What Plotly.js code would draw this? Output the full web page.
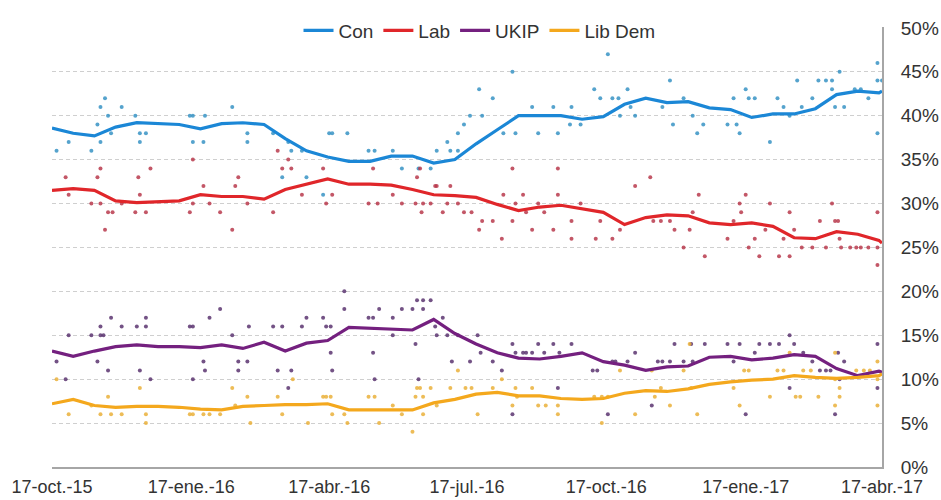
<!DOCTYPE html>
<html>
<head>
<meta charset="utf-8">
<script src="https://cdn.plot.ly/plotly-3.0.1.min.js"></script>
<style>html,body{margin:0;padding:0;background:#fff;}#chart{width:941px;height:500px;}</style>
</head>
<body>
<div id="chart"></div>
<script>
// Smoothed trend lines (shared dates)
const trendDates = ["2015-10-17","2015-10-31","2015-11-14","2015-11-28","2015-12-12","2015-12-26","2016-01-09","2016-01-23","2016-02-06","2016-02-20","2016-03-05","2016-03-19","2016-04-02","2016-04-16","2016-04-30","2016-05-14","2016-05-28","2016-06-11","2016-06-25","2016-07-09","2016-07-23","2016-08-06","2016-08-20","2016-09-03","2016-09-17","2016-10-01","2016-10-15","2016-10-29","2016-11-12","2016-11-26","2016-12-10","2016-12-24","2017-01-07","2017-01-21","2017-02-04","2017-02-18","2017-03-04","2017-03-18","2017-04-01","2017-04-15","2017-04-17"];
const conTrend = [38.6,38.0,37.7,38.7,39.2,39.1,39.0,38.5,39.1,39.2,39.0,37.4,36.0,35.3,34.8,34.8,35.4,35.4,34.6,35.0,36.8,38.4,40.0,40.0,40.0,39.6,39.9,41.3,42.0,41.5,41.6,40.9,40.7,39.8,40.2,40.2,40.8,42.4,42.8,42.6,42.8];
const labTrend = [31.5,31.7,31.5,30.3,30.1,30.2,30.3,31.0,30.8,30.8,30.5,31.6,32.2,32.8,32.2,32.2,32.1,31.6,31.0,30.9,30.7,29.9,29.2,29.6,29.8,29.4,29.0,27.6,28.4,28.7,28.6,27.8,27.6,27.8,27.4,26.1,26.0,26.8,26.5,25.8,25.5];
const ukipTrend = [13.2,12.6,13.2,13.7,13.9,13.7,13.7,13.6,13.9,13.5,14.2,13.2,14.1,14.4,15.9,15.8,15.7,15.6,16.8,15.2,14.0,13.0,12.4,12.3,12.6,13.0,12.0,11.6,11.0,11.4,11.5,12.5,12.6,12.2,12.4,12.8,12.6,11.2,10.4,10.9,10.8];
const ldTrend = [7.2,7.7,7.0,6.8,6.9,6.9,6.8,6.6,6.5,6.9,7.0,7.1,7.1,7.2,6.5,6.5,6.5,6.5,7.3,7.7,8.3,8.5,8.1,8.1,7.8,7.7,7.8,8.4,8.7,8.6,8.9,9.4,9.7,9.9,10.0,10.4,10.2,10.1,10.2,10.4,10.6];

// Individual polls
const conPollDates = ["2015-10-20","2015-10-28","2015-11-12","2015-11-16","2015-11-18","2015-11-18","2015-11-21","2015-11-23","2015-11-25","2015-12-02","2015-12-11","2015-12-14","2015-12-14","2015-12-18","2016-01-16","2016-01-18","2016-01-18","2016-01-25","2016-01-26","2016-02-13","2016-02-23","2016-02-23","2016-03-11","2016-03-17","2016-03-21","2016-03-23","2016-03-30","2016-04-02","2016-04-13","2016-04-17","2016-04-19","2016-04-29","2016-05-13","2016-05-17","2016-05-29","2016-06-04","2016-06-15","2016-06-23","2016-06-27","2016-07-04","2016-07-06","2016-07-11","2016-07-11","2016-07-15","2016-07-19","2016-07-25","2016-07-27","2016-08-03","2016-08-10","2016-08-16","2016-08-18","2016-08-29","2016-09-02","2016-09-12","2016-09-15","2016-09-23","2016-09-24","2016-09-30","2016-10-09","2016-10-13","2016-10-18","2016-10-21","2016-10-25","2016-10-26","2016-10-31","2016-11-02","2016-11-05","2016-11-23","2016-11-28","2016-11-30","2016-12-07","2016-12-13","2016-12-16","2016-12-20","2017-01-05","2017-01-09","2017-01-11","2017-01-13","2017-01-17","2017-01-19","2017-01-23","2017-02-02","2017-02-07","2017-02-11","2017-02-15","2017-02-20","2017-02-23","2017-03-02","2017-03-06","2017-03-11","2017-03-15","2017-03-15","2017-03-17","2017-03-20","2017-03-23","2017-03-30","2017-04-03","2017-04-08","2017-04-14","2017-04-14","2017-04-14","2017-04-17"];
const conPolls = [36,37,36,39,41,37,42,40,38,41,40,38,37,38,40,40,37,37,40,41,38,37,38,33,37,36,36,33,31,38,38,38,36,36,36,34,34,34,36,37,36,38,36,39,40,43,40,42,38,45,38,41,38,41,38,39,41,39,43,42,47,42,42,40,43,41,40,41,44,39,42,40,38,39,39,42,39,38,43,42,42,37,42,41,40,44,41,42,44,44,44,43,41,45,41,43,43,42,46,44,38,44];

const labPollDates = ["2015-10-26","2015-10-28","2015-11-12","2015-11-16","2015-11-18","2015-11-18","2015-11-21","2015-11-23","2015-11-26","2015-12-02","2015-12-11","2015-12-13","2015-12-14","2015-12-18","2015-12-21","2016-01-16","2016-01-18","2016-01-18","2016-01-25","2016-01-29","2016-02-05","2016-02-13","2016-02-15","2016-02-17","2016-02-23","2016-03-11","2016-03-14","2016-03-17","2016-03-21","2016-03-23","2016-03-30","2016-04-13","2016-04-15","2016-04-19","2016-05-13","2016-05-16","2016-05-19","2016-05-29","2016-06-04","2016-06-13","2016-06-14","2016-06-16","2016-06-17","2016-06-18","2016-06-23","2016-06-26","2016-06-27","2016-07-01","2016-07-04","2016-07-06","2016-07-11","2016-07-15","2016-07-20","2016-07-25","2016-07-27","2016-08-03","2016-08-09","2016-08-10","2016-08-16","2016-08-16","2016-08-18","2016-08-23","2016-08-25","2016-08-29","2016-09-02","2016-09-06","2016-09-12","2016-09-15","2016-09-15","2016-09-24","2016-09-24","2016-09-30","2016-10-10","2016-10-13","2016-10-21","2016-10-26","2016-11-05","2016-11-15","2016-11-17","2016-11-22","2016-11-28","2016-12-01","2016-12-07","2016-12-11","2016-12-13","2016-12-17","2016-12-21","2017-01-05","2017-01-09","2017-01-13","2017-01-14","2017-01-17","2017-01-19","2017-01-23","2017-01-26","2017-01-30","2017-02-02","2017-02-08","2017-02-11","2017-02-15","2017-02-15","2017-02-18","2017-02-23","2017-03-02","2017-03-07","2017-03-11","2017-03-15","2017-03-17","2017-03-19","2017-03-20","2017-03-21","2017-03-27","2017-03-31","2017-04-03","2017-04-08","2017-04-14","2017-04-14","2017-04-14"];
const labPolls = [33,31,30,33,34,30,27,29,29,30,29,33,31,29,34,29,35,30,32,30,29,27,32,33,30,29,36,34,35,34,31,34,30,31,30,34,30,31,30,30,33,34,29,30,30,32,32,29,30,32,30,29,29,27,28,28,26,31,34,28,30,31,29,27,30,29,27,34,31,28,26,30,26,28,26,27,32,33,28,28,28,27,25,27,29,31,24,26,28,30,29,31,25,26,24,27,30,24,26,24,29,27,25,25,28,25,30,28,28,26,25,25,25,25,25,29,25,23];

const ukipPollDates = ["2015-10-20","2015-10-26","2015-10-28","2015-11-12","2015-11-16","2015-11-18","2015-11-18","2015-11-20","2015-11-23","2015-11-25","2015-12-02","2015-12-12","2015-12-14","2015-12-18","2015-12-18","2015-12-21","2016-01-16","2016-01-18","2016-01-18","2016-01-25","2016-01-26","2016-01-29","2016-02-05","2016-02-13","2016-02-17","2016-02-17","2016-02-23","2016-02-24","2016-03-11","2016-03-14","2016-03-17","2016-03-21","2016-03-23","2016-03-30","2016-04-02","2016-04-13","2016-04-15","2016-04-18","2016-04-18","2016-04-19","2016-04-27","2016-04-27","2016-05-13","2016-05-16","2016-05-16","2016-05-17","2016-05-20","2016-05-29","2016-05-29","2016-06-04","2016-06-11","2016-06-13","2016-06-14","2016-06-15","2016-06-18","2016-06-18","2016-06-23","2016-06-26","2016-06-27","2016-07-01","2016-07-04","2016-07-07","2016-07-11","2016-07-19","2016-07-24","2016-07-26","2016-08-03","2016-08-09","2016-08-16","2016-08-16","2016-08-18","2016-08-23","2016-08-25","2016-08-29","2016-09-02","2016-09-06","2016-09-12","2016-09-15","2016-09-16","2016-09-24","2016-10-08","2016-10-11","2016-10-18","2016-10-21","2016-10-23","2016-10-31","2016-11-05","2016-11-16","2016-11-20","2016-11-23","2016-11-28","2016-12-01","2016-12-07","2016-12-12","2016-12-13","2016-12-21","2017-01-05","2017-01-09","2017-01-13","2017-01-17","2017-01-23","2017-01-26","2017-02-02","2017-02-08","2017-02-15","2017-02-15","2017-02-18","2017-02-24","2017-03-02","2017-03-07","2017-03-11","2017-03-14","2017-03-17","2017-03-19","2017-03-20","2017-03-23","2017-04-14","2017-04-14"];
const ukipPolls = [12,10,15,15,12,15,16,15,11,17,16,16,11,17,16,10,16,16,10,12,11,17,18,15,12,11,12,16,16,11,16,9,11,16,17,17,16,16,13,11,20,18,17,17,13,10,18,17,15,18,18,14,19,10,19,18,19,16,15,17,15,12,15,12,15,13,12,11,14,6,13,13,13,13,14,13,14,9,13,14,11,11,6,12,12,12,13,7,12,12,12,14,12,14,12,14,14,12,14,6,13,14,14,14,15,9,14,13,12,11,11,11,6,13,10,12,14,9];

const ldPollDates = ["2015-10-20","2015-10-28","2015-11-12","2015-11-18","2015-11-23","2015-11-25","2015-12-02","2015-12-14","2015-12-18","2015-12-18","2016-01-16","2016-01-18","2016-01-25","2016-01-29","2016-02-05","2016-02-13","2016-02-15","2016-02-23","2016-02-25","2016-03-14","2016-03-17","2016-03-24","2016-04-03","2016-04-13","2016-04-15","2016-04-18","2016-04-19","2016-04-27","2016-04-29","2016-05-13","2016-05-17","2016-05-20","2016-05-29","2016-06-04","2016-06-11","2016-06-13","2016-06-14","2016-06-16","2016-06-18","2016-06-18","2016-06-23","2016-06-27","2016-07-06","2016-07-11","2016-07-16","2016-07-20","2016-07-24","2016-08-03","2016-08-09","2016-08-16","2016-08-18","2016-08-19","2016-08-29","2016-09-02","2016-09-07","2016-09-15","2016-09-15","2016-10-09","2016-10-14","2016-10-14","2016-10-18","2016-10-26","2016-11-05","2016-11-16","2016-11-18","2016-11-22","2016-11-28","2016-12-07","2016-12-11","2016-12-12","2016-12-16","2017-01-09","2017-01-13","2017-01-16","2017-01-19","2017-02-02","2017-02-07","2017-02-11","2017-02-15","2017-02-19","2017-02-22","2017-02-24","2017-03-01","2017-03-06","2017-03-17","2017-03-17","2017-03-17","2017-03-20","2017-03-20","2017-03-31","2017-04-05","2017-04-09","2017-04-14","2017-04-14","2017-04-14"];
const ldPolls = [10,6,7,6,8,6,6,9,6,5,6,6,6,6,6,9,7,8,5,8,6,10,5,8,8,8,6,6,5,8,8,5,7,6,4,8,9,9,8,6,9,7,9,11,9,9,6,9,10,7,9,8,9,7,7,7,6,8,8,5,8,11,6,11,8,9,7,11,14,9,6,9,7,11,11,8,11,11,13,8,8,11,11,8,13,10,7,9,8,11,11,11,12,7,10];

const seriesNames = ["Con","Lab","UKIP","Lib Dem"];
const lineColors = ["#1b87d6","#e0262a","#74207f","#f4a81d"];
const dotColors = ["#3793c4","#b8394c","#5b3470","#eab03a"];

const tickDates = ["2015-10-17","2016-01-17","2016-04-17","2016-07-17","2016-10-17","2017-01-17","2017-04-17"];
const tickLabels = ["17-oct.-15","17-ene.-16","17-abr.-16","17-jul.-16","17-oct.-16","17-ene.-17","17-abr.-17"];
const yTicks = [0,5,10,15,20,25,30,35,40,45,50];
const yTickLabels = ["0%","5%","10%","15%","20%","25%","30%","35%","40%","45%","50%"];

const trends = [conTrend, labTrend, ukipTrend, ldTrend];
const pollDates = [conPollDates, labPollDates, ukipPollDates, ldPollDates];
const polls = [conPolls, labPolls, ukipPolls, ldPolls];

const traces = [];
for (let i = 0; i < 4; i++) {
  traces.push({
    x: pollDates[i], y: polls[i], type: "scatter", mode: "markers",
    marker: {color: dotColors[i], size: 4, opacity: 0.85},
    showlegend: false, hoverinfo: "skip"
  });
}
for (let i = 0; i < 4; i++) {
  traces.push({
    x: trendDates, y: trends[i], type: "scatter", mode: "lines",
    name: seriesNames[i],
    line: {color: lineColors[i], width: 3.2, shape: "linear"}
  });
}

const layout = {
  width: 941, height: 500,
  margin: {l: 52, r: 59, t: 23, b: 33},
  paper_bgcolor: "#ffffff", plot_bgcolor: "#ffffff",
  font: {family: "Liberation Sans, Arial, sans-serif", size: 19, color: "#333333"},
  showlegend: true,
  legend: {orientation: "h", x: 0.297, xanchor: "left", y: 1.035, yanchor: "top",
           font: {size: 19, color: "#333333"}, bgcolor: "rgba(0,0,0,0)", itemwidth: 30,
           traceorder: "normal", tracegroupgap: 0},
  xaxis: {
    type: "date", range: ["2015-10-17", "2017-04-17"],
    tickvals: tickDates, ticktext: tickLabels,
    showgrid: false, zeroline: false,
    showline: true, linecolor: "#a6a6a6", linewidth: 2,
    ticks: "outside", ticklen: 2, tickcolor: "rgba(0,0,0,0)",
    tickfont: {size: 18, color: "#333333"}
  },
  yaxis: {
    side: "right", range: [0, 50.1],
    tickvals: yTicks, ticktext: yTickLabels,
    showgrid: true, gridcolor: "#cfcfcf", griddash: "4px,3px", gridwidth: 1,
    zeroline: false, showline: true, linecolor: "#a6a6a6", linewidth: 2,
    ticks: "outside", ticklen: 13, tickcolor: "rgba(0,0,0,0)",
    tickfont: {size: 19, color: "#333333"}
  }
};

Plotly.newPlot("chart", traces, layout, {displayModeBar: false, staticPlot: true});
</script>
</body>
</html>
